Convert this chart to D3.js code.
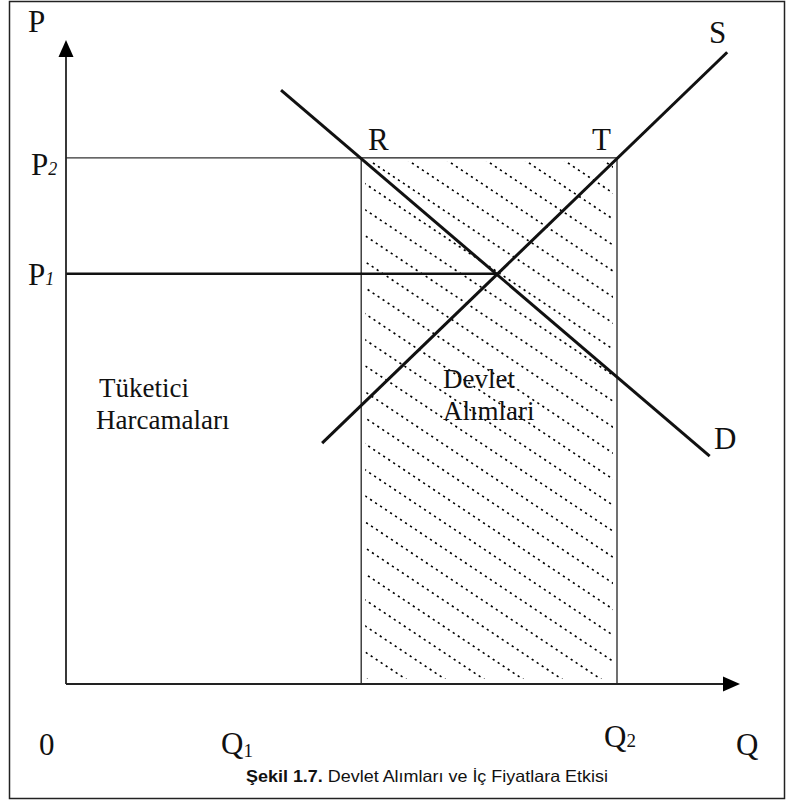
<!DOCTYPE html>
<html>
<head>
<meta charset="utf-8">
<script src="https://cdn.jsdelivr.net/npm/d3@7"></script>
<style>
  body { margin: 0; background: #fff; }
  svg { display: block; }
  .serif { font-family: "Liberation Serif", "Times New Roman", serif; fill: #111; }
</style>
</head>
<body>
<div id="chart"></div>
<script>
// Quantities / prices on a 0-100 scale
var Q1 = 43.8, Q2 = 81.75;
var P1 = 63.7, P2 = 81.7;
var demand = [{ q: 31.9, p: 92.2 }, { q: 95.5, p: 35.4 }];
var supply = [{ q: 38.0, p: 37.4 }, { q: 98.1, p: 98.1 }];
var equilibrium = { q: 64.0, p: 63.7 };

var width = 788, height = 805;

var svg = d3.select("#chart").append("svg")
    .attr("width", width)
    .attr("height", height);

// outer frame
svg.append("rect")
    .attr("x", 9.5).attr("y", 1.5)
    .attr("width", 775).attr("height", 797)
    .attr("fill", "none")
    .attr("stroke", "#222")
    .attr("stroke-width", 1.5);

// scales
var x = d3.scaleLinear().domain([0, 100]).range([66, 740]);
var y = d3.scaleLinear().domain([0, 100]).range([684, 40]);

// government purchases rectangle + hatching
svg.append("clipPath").attr("id", "hatchClip")
  .append("rect")
    .attr("x", x(Q1) + 4).attr("y", y(P2) + 4)
    .attr("width", x(Q2) - x(Q1) - 8)
    .attr("height", y(0) - y(P2) - 9);

var hatchGap = 39, hatchSlope = 0.667;
var hatch = svg.append("g").attr("clip-path", "url(#hatchClip)");
d3.range(-20, 12).forEach(function(k) {
    var x0 = 373 + hatchGap * k, y0 = 163;
    hatch.append("line")
        .attr("x1", x0 - 20).attr("y1", y0 - 20 * hatchSlope)
        .attr("x2", x0 + 900).attr("y2", y0 + 900 * hatchSlope)
        .attr("stroke", "#000")
        .attr("stroke-width", 1.6)
        .attr("stroke-dasharray", "2.2,3.8");
});

svg.append("rect")
    .attr("x", x(Q1)).attr("y", y(P2))
    .attr("width", x(Q2) - x(Q1))
    .attr("height", y(0) - y(P2))
    .attr("fill", "none")
    .attr("stroke", "#333")
    .attr("stroke-width", 1.4);

// P2 line from axis to rectangle
svg.append("line")
    .attr("x1", x(0)).attr("y1", y(P2))
    .attr("x2", x(Q1)).attr("y2", y(P2))
    .attr("stroke", "#333").attr("stroke-width", 1.4);

// P1 line to equilibrium
svg.append("line")
    .attr("x1", x(0)).attr("y1", y(P1))
    .attr("x2", x(equilibrium.q)).attr("y2", y(P1))
    .attr("stroke", "#111").attr("stroke-width", 2.4);

// axes
svg.append("line")
    .attr("x1", x(0)).attr("y1", y(0))
    .attr("x2", x(0)).attr("y2", y(100) + 16)
    .attr("stroke", "#222").attr("stroke-width", 1.8);
svg.append("path")
    .attr("d", "M" + x(0) + "," + y(100) + "L" + (x(0) - 7.5) + "," + (y(100) + 17) + "L" + (x(0) + 7.5) + "," + (y(100) + 17) + "Z")
    .attr("fill", "#000");
svg.append("line")
    .attr("x1", x(0)).attr("y1", y(0))
    .attr("x2", x(100) - 16).attr("y2", y(0))
    .attr("stroke", "#222").attr("stroke-width", 1.8);
svg.append("path")
    .attr("d", "M" + x(100) + "," + y(0) + "L" + (x(100) - 17) + "," + (y(0) - 7.5) + "L" + (x(100) - 17) + "," + (y(0) + 7.5) + "Z")
    .attr("fill", "#000");

// demand and supply curves
var line = d3.line()
    .x(function(d) { return x(d.q); })
    .y(function(d) { return y(d.p); });

[demand, supply].forEach(function(curve) {
    svg.append("path")
        .datum(curve)
        .attr("d", line)
        .attr("fill", "none")
        .attr("stroke", "#111")
        .attr("stroke-width", 3);
});

// labels
function label(txt, px, py, size, sub, subSize, subItalic, subDy) {
    var t = svg.append("text")
        .attr("class", "serif")
        .attr("x", px).attr("y", py)
        .style("font-size", size + "px")
        .text(txt);
    if (sub) {
        t.append("tspan")
            .attr("dy", subDy || 0)
            .style("font-size", subSize + "px")
            .style("font-style", subItalic ? "italic" : "normal")
            .text(sub);
    }
    return t;
}

label("P", 28, 32, 31);
label("P", 31, y(P2) + 17, 31, "2", 18, true, 0);
label("P", 28, y(P1) + 11, 31, "1", 18, true, 0);
label("R", 368, 150, 31);
label("T", 592, 150, 31);
label("S", 709, 43, 31);
label("D", 714, 449, 31);
label("0", 39, 755, 31);
label("Q", 221, 754, 31, "1", 19, false, 3);
label("Q", 604, 747, 31, "2", 19, false, 0);
label("Q", 736, 755, 31);

label("Tüketici", 99, 397, 27);
label("Harcamaları", 96, 429, 27);
label("Devlet", 443, 388, 27);
label("Alımlari", 443, 420, 27);

// caption
var cap = svg.append("text")
    .attr("x", 246).attr("y", 782)
    .attr("textLength", 362)
    .attr("lengthAdjust", "spacingAndGlyphs")
    .style("font-family", "'Liberation Sans', Arial, sans-serif")
    .style("font-size", "16.5px")
    .style("fill", "#111");
cap.append("tspan").style("font-weight", "bold").text("Şekil 1.7.");
cap.append("tspan").text(" Devlet Alımları ve İç Fiyatlara Etkisi");
</script>
</body>
</html>
